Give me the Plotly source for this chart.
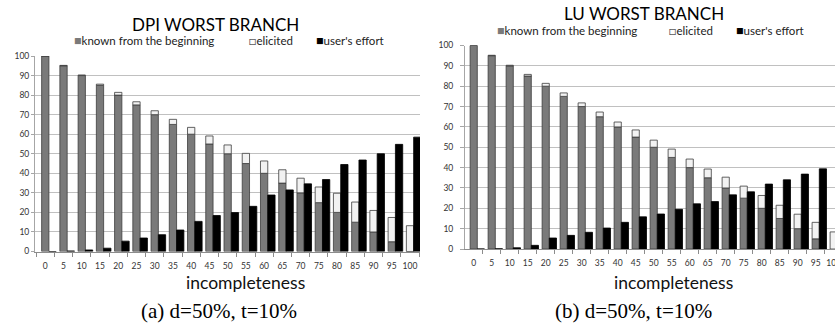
import plotly.graph_objects as go

# ---------------- data ----------------
incompleteness = [0, 5, 10, 15, 20, 25, 30, 35, 40, 45, 50, 55, 60, 65, 70, 75, 80, 85, 90, 95, 100]
tick_labels = [str(v) for v in incompleteness]
y_ticks = [0, 10, 20, 30, 40, 50, 60, 70, 80, 90, 100]

dpi_known = [100, 95, 90, 85, 80, 75, 70, 65, 60, 55, 50, 45, 40, 35, 30, 25, 20, 15, 10, 5, 0]
dpi_elicited = [0, 0.2, 0.3, 0.6, 1.4, 1.6, 2.0, 2.6, 3.5, 4.1, 4.5, 5.2, 6.3, 6.8, 7.5, 8.0, 9.8, 10.3, 11.0, 12.4, 13.2]
dpi_effort = [0, 0.3, 0.8, 1.7, 5.3, 6.9, 8.6, 11.0, 15.4, 18.4, 19.9, 23.1, 28.9, 31.5, 34.6, 36.8, 44.5, 46.8, 50.0, 54.8, 58.5]

lu_known = [100, 95, 90, 85, 80, 75, 70, 65, 60, 55, 50, 45, 40, 35, 30, 25, 20, 15, 10, 5, 0]
lu_elicited = [0, 0.2, 0.3, 0.8, 1.4, 1.7, 1.8, 2.3, 2.4, 3.5, 3.5, 4.1, 4.2, 4.3, 5.3, 5.9, 6.3, 6.5, 7.1, 8.1, 8.4]
lu_effort = [0, 0.1, 0.6, 1.8, 5.4, 6.7, 8.2, 10.3, 13.1, 15.8, 17.2, 19.5, 22.2, 23.3, 26.6, 28.1, 31.9, 34.0, 36.8, 39.4, None]

series_names = ["known from the beginning", "elicited", "user's effort"]
titles = ["DPI WORST BRANCH", "LU WORST BRANCH"]
captions = ["(a) d=50%, t=10%", "(b) d=50%, t=10%"]
x_title = "incompleteness"

# ---------------- style ----------------
W, H = 835, 326
GRAY = "#7a7a7a"
LIGHT = "#f2f2f2"
BLACK = "#000000"
EDGE = "#3c3c3c"
FONT = "Lato"

def px(x):
    return x / W

def py(y):
    return 1 - y / H

fig = go.Figure()

panels = [
    dict(known=dpi_known, eli=dpi_elicited, eff=dpi_effort, xa="x", ya="y"),
    dict(known=lu_known, eli=lu_elicited, eff=lu_effort, xa="x2", ya="y2"),
]

for p in panels:
    fig.add_trace(go.Bar(x=incompleteness, y=p["known"], width=2, offset=-1,
                         marker=dict(color=GRAY, line=dict(color=EDGE, width=0.8)),
                         name=series_names[0], xaxis=p["xa"], yaxis=p["ya"], showlegend=False))
    fig.add_trace(go.Bar(x=incompleteness, y=p["eli"], base=p["known"], width=2, offset=-1,
                         marker=dict(color=LIGHT, line=dict(color=EDGE, width=0.8)),
                         name=series_names[1], xaxis=p["xa"], yaxis=p["ya"], showlegend=False))
    fig.add_trace(go.Bar(x=incompleteness, y=p["eff"], width=2, offset=1,
                         marker=dict(color=BLACK, line=dict(color=BLACK, width=0.8)),
                         name=series_names[2], xaxis=p["xa"], yaxis=p["ya"], showlegend=False))

boundaries = [v - 2.5 for v in incompleteness] + [102.5]

def xaxis(domain, rng, anchor):
    return dict(domain=domain, range=rng, anchor=anchor, automargin=False,
                tickmode="array", tickvals=incompleteness,
                ticktext=tick_labels, ticks="", showgrid=False, zeroline=False,
                showline=True, linecolor="#8c8c8c", linewidth=1,
                tickfont=dict(family=FONT, size=8.5, color="#333333"),
                ticklabelstandoff=6, ticklabeloverflow="allow",
                minor=dict(tickvals=boundaries, ticks="outside", ticklen=4,
                           tickcolor="#8c8c8c", showgrid=False))

def yaxis(domain, anchor, standoff, ticklen):
    return dict(domain=domain, range=[0, 100], anchor=anchor, automargin=False,
                tickmode="array",
                tickvals=y_ticks, ticks="outside", ticklen=ticklen, tickcolor="#a6a6a6",
                showgrid=True, gridcolor="#c0c0c0", gridwidth=1, zeroline=False,
                showline=True, linecolor="#a6a6a6", linewidth=1,
                tickfont=dict(family=FONT, size=8.5, color="#333333"),
                ticklabelstandoff=standoff)

fig.update_layout(
    width=W, height=H, margin=dict(l=0, r=0, t=0, b=0, autoexpand=False),
    paper_bgcolor="white", plot_bgcolor="white",
    barmode="overlay", showlegend=False,
    xaxis=xaxis([px(35), px(420)], [-2.82, 102.74], "y"),
    yaxis=yaxis([py(251.5), py(56)], "x", 0, 3),
    xaxis2=xaxis([px(465), 1.0], [-2.42, 100.36], "y2"),
    yaxis2=yaxis([py(249), py(45.5)], "x2", 5, 4),
)

ann = []
# titles
ann.append(dict(x=px(215.5), y=py(24.5), text=titles[0], font=dict(family=FONT, size=17, color="#000")))
ann.append(dict(x=px(644), y=py(14), text=titles[1], font=dict(family=FONT, size=17, color="#000")))
# legends (text items)
leg_pos = [([72.7, 248, 315], 40.5), ([496, 668.3, 735], 30)]
for xs, yy in leg_pos:
    items = [
        f'<span style="color:{GRAY};font-size:12.5px">■</span>{series_names[0]}',
        f'<span style="color:#595959;font-size:12.5px">□</span>{series_names[1]}',
        f'<span style="color:{BLACK};font-size:12.5px">■</span>{series_names[2]}',
    ]
    for xx, t in zip(xs, items):
        ann.append(dict(x=px(xx - 1), y=py(yy), text=t, xanchor="left",
                        font=dict(family=FONT, size=11.5, color="#222")))
# axis titles
ann.append(dict(x=px(245.5), y=py(282), text=x_title, font=dict(family=FONT, size=17.5, color="#111")))
ann.append(dict(x=px(673), y=py(282), text=x_title, font=dict(family=FONT, size=17.5, color="#111")))
# captions
ann.append(dict(x=px(219), y=py(311), text=captions[0], font=dict(family="Liberation Serif", size=21, color="#000")))
ann.append(dict(x=px(633.5), y=py(311), text=captions[1], font=dict(family="Liberation Serif", size=21, color="#000")))

for a in ann:
    a.setdefault("xanchor", "center")
    a["yanchor"] = "middle"
    a["xref"] = "paper"
    a["yref"] = "paper"
    a["showarrow"] = False
fig.update_layout(annotations=ann)

fig.write_html("out.html",
               config={"displayModeBar": False},
               post_script="document.body.style.margin='0';document.body.style.padding='0';")
